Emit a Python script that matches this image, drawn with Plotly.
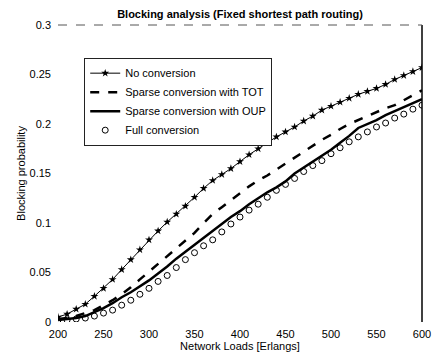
import plotly.graph_objects as go

loads = list(range(200, 601, 10))

no_conversion = [0.005, 0.008, 0.013, 0.018, 0.026, 0.034, 0.043, 0.053, 0.063, 0.073,
                 0.083, 0.092, 0.101, 0.109, 0.117, 0.126, 0.135, 0.143, 0.149, 0.155,
                 0.162, 0.169, 0.175, 0.181, 0.187, 0.192, 0.197, 0.203, 0.208, 0.214,
                 0.218, 0.222, 0.226, 0.230, 0.233, 0.236, 0.240, 0.245, 0.249, 0.253, 0.257]

sparse_tot = [0.003, 0.004, 0.006, 0.009, 0.012, 0.017, 0.022, 0.028, 0.035, 0.043,
              0.051, 0.058, 0.066, 0.074, 0.082, 0.090, 0.100, 0.109, 0.116, 0.123,
              0.130, 0.137, 0.143, 0.148, 0.154, 0.160, 0.166, 0.172, 0.178, 0.184,
              0.189, 0.195, 0.200, 0.204, 0.208, 0.212, 0.216, 0.219, 0.224, 0.229, 0.234]

sparse_oup = [0.002, 0.003, 0.004, 0.006, 0.010, 0.014, 0.019, 0.025, 0.030, 0.036,
              0.042, 0.049, 0.056, 0.064, 0.071, 0.078, 0.085, 0.092, 0.099, 0.106,
              0.112, 0.119, 0.125, 0.131, 0.136, 0.142, 0.150, 0.156, 0.162, 0.168,
              0.174, 0.181, 0.188, 0.196, 0.200, 0.204, 0.209, 0.213, 0.217, 0.221, 0.225]

full_conversion = [0.002, 0.002, 0.003, 0.004, 0.006, 0.009, 0.012, 0.017, 0.022, 0.028,
                   0.034, 0.041, 0.047, 0.055, 0.063, 0.070, 0.077, 0.083, 0.091, 0.099,
                   0.106, 0.113, 0.119, 0.126, 0.133, 0.139, 0.145, 0.152, 0.158, 0.163,
                   0.170, 0.176, 0.182, 0.187, 0.192, 0.197, 0.201, 0.206, 0.210, 0.215, 0.219]

x_ticks = [200, 250, 300, 350, 400, 450, 500, 550, 600]
y_ticks = [0, 0.05, 0.1, 0.15, 0.2, 0.25, 0.3]
y_tick_labels = ["0", "0.05", "0.1", "0.15", "0.2", "0.25", "0.3"]

FONT = "Arial, Liberation Sans, sans-serif"

fig = go.Figure()
fig.add_trace(go.Scatter(x=loads, y=no_conversion, name="No conversion", mode="lines+markers",
                         line=dict(color="black", width=1),
                         marker=dict(symbol="star", size=6, color="black")))
fig.add_trace(go.Scatter(x=loads, y=sparse_tot, name="Sparse conversion with TOT", mode="lines",
                         line=dict(color="black", width=2.5, dash="dash")))
fig.add_trace(go.Scatter(x=loads, y=sparse_oup, name="Sparse conversion with OUP", mode="lines",
                         line=dict(color="black", width=2.5)))
fig.add_trace(go.Scatter(x=loads, y=full_conversion, name="Full conversion", mode="markers",
                         marker=dict(symbol="circle-open", size=6, color="black", line=dict(width=1))))

# page body has an 8px default margin, so the figure is sized to end at the window edge
fig.update_layout(
    width=433, height=353,
    margin=dict(l=50, r=10, t=17, b=36),
    paper_bgcolor="white", plot_bgcolor="white",
    font=dict(family=FONT, size=11, color="black"),
    title=dict(text="<b>Blocking analysis (Fixed shortest path routing)</b>",
               x=0.5, xref="paper", xanchor="center",
               y=1 - 6 / 353, yref="container", yanchor="middle",
               font=dict(size=11, family=FONT)),
    showlegend=True,
    legend=dict(x=0.072, y=0.89, xanchor="left", yanchor="top",
                bgcolor="white", bordercolor="#222", borderwidth=1,
                font=dict(size=11, family=FONT), tracegroupgap=0),
)
fig.update_xaxes(range=[200, 600], tickvals=x_ticks, showgrid=False, zeroline=False,
                 showline=False, ticks="", ticklabelstandoff=4,
                 title=dict(text="Network Loads [Erlangs]", standoff=3, font=dict(size=11)))
fig.update_yaxes(range=[0, 0.3], tickvals=y_ticks, ticktext=y_tick_labels, showgrid=False,
                 zeroline=False, showline=False, ticks="", ticklabelstandoff=6,
                 title=dict(text="Blocking probability", standoff=1, font=dict(size=11)))

fig.add_shape(type="line", xref="paper", yref="paper", x0=1, x1=1, y0=0, y1=1,
              line=dict(color="black", width=1.5))
fig.add_shape(type="line", xref="paper", yref="paper", x0=0, x1=1, y0=1, y1=1,
              line=dict(color="#555", width=1, dash="dash"))

fig.write_html("out.html")
